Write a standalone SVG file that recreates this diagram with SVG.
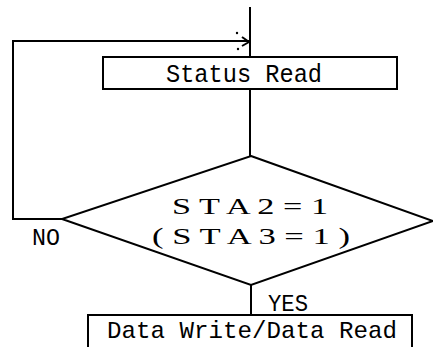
<svg xmlns="http://www.w3.org/2000/svg" width="433" height="347" viewBox="0 0 433 347">
<style>
.ln{fill:none;stroke:#000;stroke-width:2}
.bx{fill:#fff;stroke:#000;stroke-width:2}
.mono{font-family:"Liberation Mono","DejaVu Sans Mono",monospace;fill:#000}
.serif{font-family:"Liberation Serif","DejaVu Serif",serif;fill:#000}
</style>
<rect width="433" height="347" fill="#fff"/>
<g id="connectors">
<line class="ln" x1="250" y1="7" x2="250" y2="57"/>
<line class="ln" x1="250" y1="89" x2="250" y2="156"/>
<line class="ln" x1="251" y1="285" x2="251" y2="315"/>
<polyline class="ln" points="62,219 13,219 13,41 249,41"/>
<polyline class="ln" points="242,37 249,42 242,46"/>
<circle cx="237" cy="33" r="1.2" fill="#000"/>
<circle cx="238" cy="49" r="1.2" fill="#000"/>
</g>
<g id="status-read">
<rect class="bx" x="103" y="57" width="294" height="32"/>
<text class="mono" x="166" y="82" font-size="26" textLength="156" lengthAdjust="spacingAndGlyphs">Status Read</text>
</g>
<g id="decision">
<polygon class="ln" points="251,156 433,221 251,285 62,219"/>
<text class="serif" x="172" y="214" font-size="24" textLength="156" lengthAdjust="spacingAndGlyphs">S T A 2 = 1</text>
<text class="serif" x="152" y="244" font-size="24" textLength="198" lengthAdjust="spacingAndGlyphs">( S T A 3 = 1 )</text>
<text class="mono" x="32" y="245" font-size="24" textLength="28" lengthAdjust="spacingAndGlyphs">NO</text>
<text class="mono" x="268" y="311" font-size="24" textLength="40" lengthAdjust="spacingAndGlyphs">YES</text>
</g>
<g id="data-rw">
<rect class="bx" x="88" y="315" width="324" height="40"/>
<text class="mono" x="107" y="338" font-size="24" textLength="290" lengthAdjust="spacingAndGlyphs">Data Write/Data Read</text>
</g>
</svg>
